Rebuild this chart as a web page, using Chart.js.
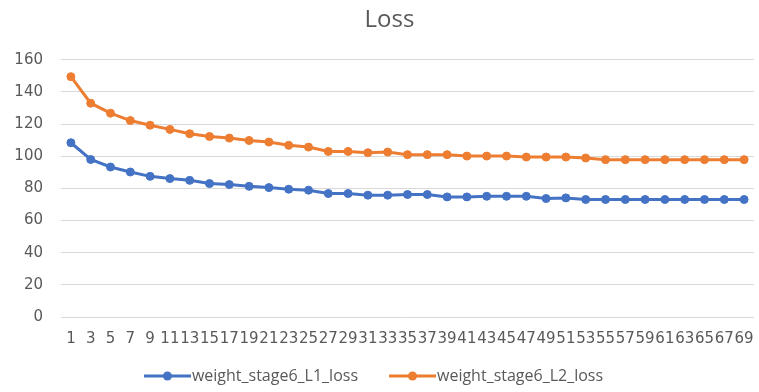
<!DOCTYPE html>
<html>
<head>
<meta charset="utf-8">
<script src="https://cdn.jsdelivr.net/npm/chart.js@4/dist/chart.umd.min.js"></script>
<style>
  html, body { margin: 0; padding: 0; background: #fff; }
  #wrap { width: 759px; height: 392px; }
</style>
</head>
<body>
<div id="wrap"><canvas id="c" width="759" height="392"></canvas></div>
<script>
const categories = ['1','3','5','7','9','11','13','15','17','19','21','23','25','27','29','31','33','35','37','39','41','43','45','47','49','51','53','55','57','59','61','63','65','67','69'];
const seriesNames = ['weight_stage6_L1_loss', 'weight_stage6_L2_loss'];
const l1Loss = [108.4, 98.0, 93.3, 90.2, 87.5, 86.1, 85.0, 83.0, 82.4, 81.3, 80.5, 79.5, 78.9, 76.8, 76.8, 75.8, 75.8, 76.2, 76.2, 74.7, 74.7, 75.1, 75.1, 75.1, 73.7, 74.1, 73.1, 73.1, 73.1, 73.1, 73.1, 73.1, 73.1, 73.1, 73.1];
const l2Loss = [149.5, 133.0, 126.8, 122.2, 119.3, 116.7, 114.0, 112.3, 111.3, 109.8, 108.8, 106.8, 105.7, 103.0, 103.0, 102.2, 102.6, 101.0, 101.0, 101.0, 100.1, 100.1, 100.1, 99.5, 99.5, 99.5, 98.9, 97.9, 97.9, 97.9, 97.9, 97.9, 97.9, 97.9, 97.9];
const yTicks = [0, 20, 40, 60, 80, 100, 120, 140, 160];

const colors = ['#4472C4', '#ED7D31'];

function legendIcon(color) {
  const cv = document.createElement('canvas');
  cv.width = 80; cv.height = 12;
  const g = cv.getContext('2d');
  g.strokeStyle = color; g.lineWidth = 3;
  g.beginPath(); g.moveTo(33, 6); g.lineTo(80, 6); g.stroke();
  g.fillStyle = color;
  g.beginPath(); g.arc(56.5, 6, 4.5, 0, Math.PI * 2); g.fill();
  return cv;
}
const icons = colors.map(legendIcon);

const FONT = "'Open Sans', 'DejaVu Sans', sans-serif";

const boxShift = {
  id: 'boxShift',
  afterLayout(chart) {
    if (chart.titleBlock) chart.titleBlock.left = 23;
    if (chart.legend) { chart.legend.left -= 35; chart.legend.top += 2; chart.legend.bottom += 2; }
  }
};

new Chart(document.getElementById('c'), {
  type: 'line',
  data: {
    labels: categories,
    datasets: [
      { label: seriesNames[0], data: l1Loss, borderColor: colors[0], backgroundColor: colors[0],
        borderWidth: 3, pointRadius: 4, pointBorderWidth: 1, pointStyle: 'circle', tension: 0 },
      { label: seriesNames[1], data: l2Loss, borderColor: colors[1], backgroundColor: colors[1],
        borderWidth: 3, pointRadius: 4, pointBorderWidth: 1, pointStyle: 'circle', tension: 0 }
    ]
  },
  plugins: [boxShift],
  options: {
    responsive: false,
    animation: false,
    layout: { padding: { left: 0, right: 3, top: 0, bottom: 0 } },
    plugins: {
      title: {
        display: true, text: 'Loss', color: '#595959',
        font: { family: FONT, size: 24, weight: 'normal' },
        padding: { top: 6, bottom: 25 }
      },
      legend: {
        position: 'bottom',
        labels: {
          color: '#595959',
          font: { family: FONT, size: 16 },
          usePointStyle: true,
          pointStyleWidth: 66,
          padding: 5,
          generateLabels(chart) {
            return chart.data.datasets.map((ds, i) => ({
              text: ds.label, pointStyle: icons[i], fillStyle: colors[i], strokeStyle: colors[i],
              lineWidth: 0, hidden: false, datasetIndex: i, fontColor: '#595959'
            }));
          }
        }
      },
      tooltip: { enabled: false }
    },
    scales: {
      x: {
        offset: true,
        grid: { display: false, drawTicks: false },
        border: { display: false },
        afterFit(s) { s.paddingLeft = 0; s.paddingRight = 0; },
        ticks: { autoSkip: false, maxRotation: 0, minRotation: 0, color: '#595959',
                 font: { family: "'DejaVu Sans', sans-serif", size: 15 }, padding: 13 }
      },
      y: {
        min: 0, max: 160,
        afterBuildTicks(s) { s.ticks = yTicks.map(v => ({ value: v })); },
        afterFit(s) { s.width = 61; },
        grid: { color: '#D9D9D9', lineWidth: 1, drawTicks: false },
        border: { display: false },
        ticks: { color: '#595959', font: { family: "'DejaVu Sans', sans-serif", size: 15 }, padding: 18 }
      }
    }
  }
});
</script>
</body>
</html>
